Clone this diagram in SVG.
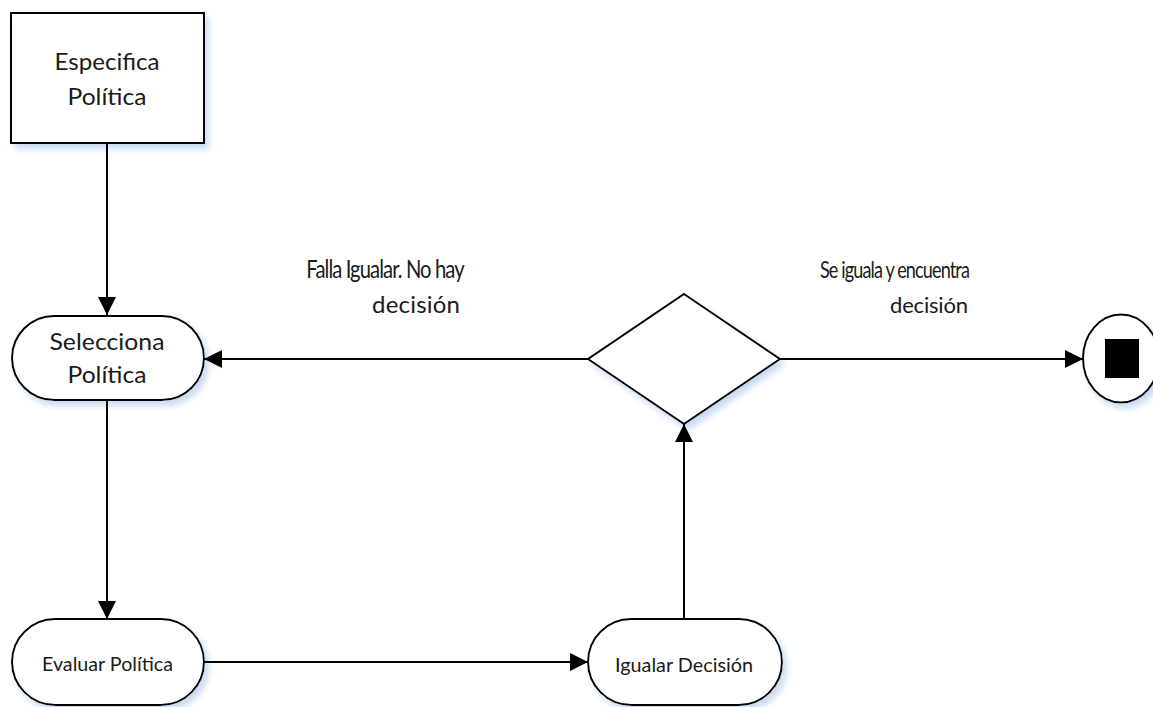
<svg xmlns="http://www.w3.org/2000/svg" width="1153" height="707" viewBox="0 0 1153 707">
<defs>
<filter id="sh" x="-20%" y="-20%" width="150%" height="150%">
<feGaussianBlur in="SourceAlpha" stdDeviation="3"/>
<feOffset dx="4" dy="5" result="b"/>
<feFlood flood-color="#bcd3ee" flood-opacity="0.8"/>
<feComposite in2="b" operator="in"/>
<feMerge><feMergeNode/><feMergeNode in="SourceGraphic"/></feMerge>
</filter>
<marker id="arr" viewBox="0 0 18 18" refX="18" refY="9" markerWidth="18" markerHeight="18" markerUnits="userSpaceOnUse" orient="auto">
<path d="M0,0 L18,9 L0,18 Z" fill="#000"/>
</marker>
<style>
.n{fill:#fff;stroke:#000;stroke-width:2;filter:url(#sh)}
.t{font-family:Lato,"Open Sans",sans-serif;fill:#1a1a1a;text-anchor:middle}
.c{stroke:#000;stroke-width:2;fill:none;marker-end:url(#arr)}
.cd{letter-spacing:-1px}
</style>
</defs>
<rect width="1153" height="707" fill="#fff"/>
<g id="especifica">
<rect class="n" x="11" y="13" width="193" height="130"/>
<text class="t" x="107" y="70" font-size="24" textLength="105" lengthAdjust="spacingAndGlyphs">Especifica</text>
<text class="t" x="107" y="105" font-size="24" textLength="79" lengthAdjust="spacingAndGlyphs">Política</text>
</g>
<g id="selecciona">
<rect class="n" x="12" y="316" width="192" height="84" rx="42"/>
<text class="t" x="107" y="350" font-size="24" textLength="115" lengthAdjust="spacingAndGlyphs">Selecciona</text>
<text class="t" x="107" y="383" font-size="24" textLength="79" lengthAdjust="spacingAndGlyphs">Política</text>
</g>
<g id="evaluar">
<rect class="n" x="12" y="619" width="192" height="86" rx="43"/>
<text class="t" x="107.5" y="671" font-size="20" textLength="131" lengthAdjust="spacingAndGlyphs">Evaluar Política</text>
</g>
<g id="igualar">
<rect class="n" x="588" y="619" width="194" height="86" rx="43"/>
<text class="t" x="684" y="672" font-size="20" textLength="138" lengthAdjust="spacingAndGlyphs">Igualar Decisión</text>
</g>
<g id="decision">
<polygon class="n" points="684,294 780,359 684,424 588,359"/>
</g>
<g id="fin">
<ellipse class="n" cx="1121" cy="358.5" rx="38" ry="44"/>
<rect x="1105" y="339" width="34" height="39" fill="#000"/>
</g>
<g id="connectors">
<line class="c" x1="107" y1="143" x2="107" y2="315"/>
<line class="c" x1="107" y1="400" x2="107" y2="619"/>
<line class="c" x1="204" y1="662" x2="588" y2="662"/>
<line class="c" x1="684" y1="619" x2="684" y2="424"/>
<line class="c" x1="588" y1="359" x2="204" y2="359"/>
<line class="c" x1="780" y1="359" x2="1083" y2="359"/>
</g>
<g id="labels">
<text class="t cd" transform="translate(385,278) scale(0.92,1.1)" font-size="22">Falla Igualar. No hay</text>
<text class="t" x="416" y="313" font-size="24" textLength="88" lengthAdjust="spacing">decisión</text>
<text class="t cd" transform="translate(894.5,278) scale(0.86,1.1)" font-size="21">Se iguala y encuentra</text>
<text class="t" x="929" y="313" font-size="22" textLength="78" lengthAdjust="spacing">decisión</text>
</g>
</svg>
